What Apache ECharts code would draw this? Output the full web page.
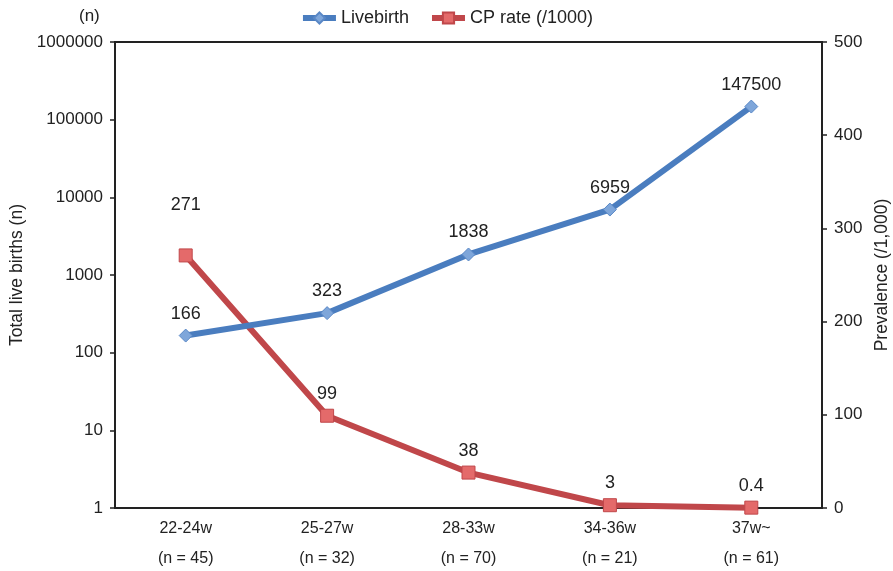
<!DOCTYPE html>
<html>
<head>
<meta charset="utf-8">
<script src="https://cdn.jsdelivr.net/npm/echarts@6/dist/echarts.min.js"></script>
<style>
  html, body { margin: 0; padding: 0; background: #fff; }
  #chart { width: 893px; height: 571px; }
</style>
</head>
<body>
<div id="chart"></div>
<script>
// Gestational age groups and group sizes
const categories = ['22-24w', '25-27w', '28-33w', '34-36w', '37w~'];
const groupN = [45, 32, 70, 21, 61];
// Total live births per group (log axis)
const livebirths = [166, 323, 1838, 6959, 147500];
// Cerebral palsy prevalence per 1,000 (right axis)
const cpRate = [271, 99, 38, 3, 0.4];

const FONT = '"Liberation Sans", Arial, Helvetica, sans-serif';
const TXT = '#222';

const chart = echarts.init(document.getElementById('chart'));

chart.setOption({
  animation: false,
  textStyle: { fontFamily: FONT },
  grid: {
    left: 115, right: 71, top: 42, bottom: 63,
    outerBoundsMode: 'none',
    containLabel: false,
    show: true, borderColor: '#222', borderWidth: 2, backgroundColor: 'transparent'
  },
  legend: {
    top: 4,
    left: 'center',
    itemWidth: 33,
    itemHeight: 14,
    itemGap: 20,
    lineStyle: { width: 6 },
    textStyle: { fontSize: 18, color: TXT, fontFamily: FONT },
    data: ['Livebirth', 'CP rate (/1000)']
  },
  graphic: [{
    type: 'text',
    left: 79, top: 8,
    style: { text: '(n)', fontSize: 17, fill: TXT, font: '17px ' + FONT }
  }],
  xAxis: {
    type: 'category',
    data: categories,
    axisLine: { lineStyle: { color: '#222', width: 2 } },
    axisTick: { show: false },
    axisLabel: {
      margin: 6,
      fontSize: 16,
      color: TXT,
      lineHeight: 30,
      formatter: (v, i) => v + '\n(n = ' + groupN[i] + ')'
    }
  },
  yAxis: [{
    type: 'log',
    logBase: 10,
    min: 1,
    max: 1000000,
    position: 'left',
    name: 'Total live births (n)',
    nameLocation: 'middle',
    nameRotate: 90,
    nameGap: 88,
    nameTextStyle: { fontSize: 17.5, color: TXT },
    axisLine: { show: true, lineStyle: { color: '#222', width: 2 } },
    axisTick: { show: true, length: 5, lineStyle: { color: '#222', width: 1.5 } },
    axisLabel: { margin: 12, fontSize: 17, color: TXT, formatter: v => String(Math.round(v)) },
    splitLine: { show: false },
    minorTick: { show: false }
  }, {
    type: 'value',
    min: 0,
    max: 500,
    interval: 100,
    position: 'right',
    alignTicks: false,
    name: 'Prevalence (/1,000)',
    nameLocation: 'middle',
    nameRotate: 90,
    nameGap: 50,
    nameTextStyle: { fontSize: 17.5, color: TXT },
    axisLine: { show: true, lineStyle: { color: '#222', width: 2 } },
    axisTick: { show: true, length: 5, lineStyle: { color: '#222', width: 1.5 } },
    axisLabel: { margin: 12, fontSize: 17, color: TXT },
    splitLine: { show: false }
  }],
  series: [{
    name: 'Livebirth',
    type: 'line',
    yAxisIndex: 0,
    z: 4,
    data: livebirths,
    symbol: 'diamond',
    symbolSize: 13,
    lineStyle: { color: '#4a7dbf', width: 6 },
    itemStyle: { color: '#7ea6da', borderColor: '#5a88c6', borderWidth: 1 },
    label: {
      show: true, position: 'top', distance: 6,
      fontSize: 18, color: TXT, fontFamily: FONT
    }
  }, {
    name: 'CP rate (/1000)',
    type: 'line',
    yAxisIndex: 1,
    z: 3,
    data: cpRate.map((v, i) => i === 0
      ? { value: v, label: { offset: [0, -28] } }
      : v),
    symbol: 'rect',
    symbolSize: 13,
    lineStyle: { color: '#c0474a', width: 6 },
    itemStyle: { color: '#e46a6a', borderColor: '#c0474a', borderWidth: 1 },
    label: {
      show: true, position: 'top', distance: 6,
      fontSize: 18, color: TXT, fontFamily: FONT
    }
  }]
});
</script>
</body>
</html>
